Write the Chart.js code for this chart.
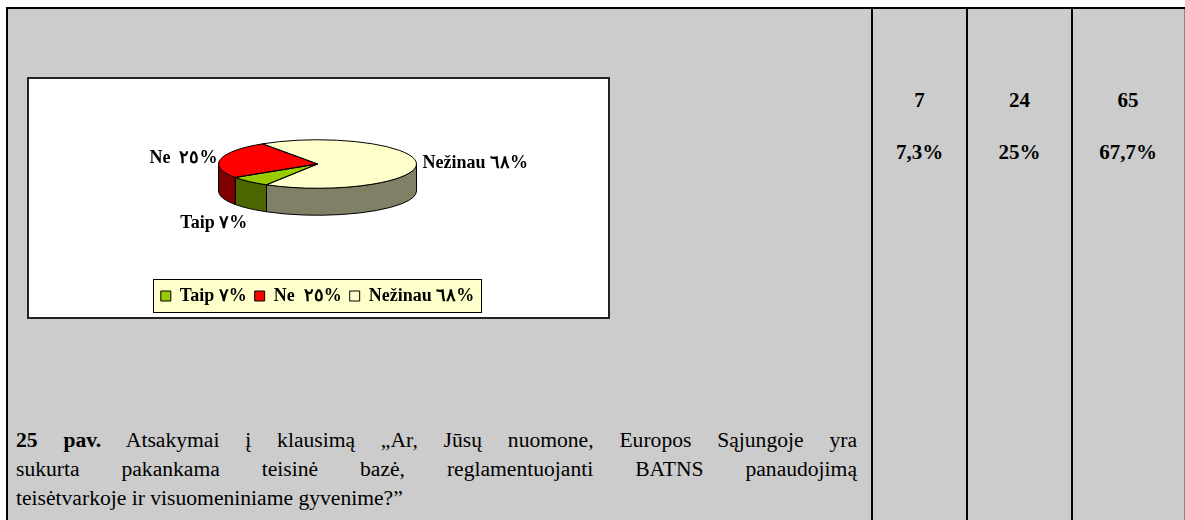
<!DOCTYPE html>
<html><head><meta charset="utf-8">
<script src="https://cdn.jsdelivr.net/npm/chart.js@4/dist/chart.umd.min.js"></script>
<style>
body{margin:0;background:#fff;width:1185px;height:520px;overflow:hidden;position:relative;font-family:'Liberation Serif','Times New Roman',serif;color:#000;}
.bg{position:absolute;left:6px;top:7px;width:1178px;height:520px;background:#cccccc;border-right:1px solid #888;}
.vl{position:absolute;top:7px;height:520px;width:2px;background:#000;}
.hl{position:absolute;left:6px;top:7px;width:1179px;height:2px;background:#000;}
#box{position:absolute;left:27px;top:77px;width:579px;height:238px;background:#fff;border:2px solid #222;}
#wrap{position:absolute;left:29px;top:20px;width:577px;height:295px;}
.num{position:absolute;font-weight:bold;font-size:21px;text-align:center;line-height:24px;}
.cap{position:absolute;left:16px;width:841px;font-size:21.6px;line-height:29px;white-space:nowrap;}
.j{text-align:justify;text-align-last:justify;white-space:normal;}
</style></head>
<body>
<div class="bg"></div>
<div class="hl"></div>
<div class="vl" style="left:6px"></div>
<div class="vl" style="left:871px"></div>
<div class="vl" style="left:966px"></div>
<div class="vl" style="left:1071px"></div>
<div id="box"></div>
<div id="wrap"><canvas id="c"></canvas></div>
<div class="cap j" style="top:426px"><b>25 pav.</b> Atsakymai į klausimą „Ar, Jūsų nuomone, Europos Sąjungoje yra</div>
<div class="cap j" style="top:455px">sukurta pakankama teisinė bazė, reglamentuojanti BATNS panaudojimą</div>
<div class="cap" style="top:484px">teisėtvarkoje ir visuomeniniame gyvenime?”</div>
<script>
// ---- data ----
const categories = ['Taip ٧%', 'Ne  ٢٥%', 'Nežinau ٦٨%'];
const values = [7, 25, 68];
const counts = [7, 24, 65];
const percents = ['7,3%', '25%', '67,7%'];
const topColors = ['#99CC00', '#FF0000', '#FFFFCC'];
const sideColors = ['#4D6600', '#800000', '#808066'];

// ---- table cells ----
const colCenters = [919.5, 1019.5, 1128];
counts.forEach((c, i) => {
  const d1 = document.createElement('div');
  d1.className = 'num'; d1.textContent = c;
  d1.style.left = (colCenters[i] - 50) + 'px'; d1.style.width = '100px'; d1.style.top = '88px';
  document.body.appendChild(d1);
  const d2 = document.createElement('div');
  d2.className = 'num'; d2.textContent = percents[i];
  d2.style.left = (colCenters[i] - 50) + 'px'; d2.style.width = '100px'; d2.style.top = '140px';
  document.body.appendChild(d2);
});

const SQ = 0.245, DEPTH = 27;
const FONT = 'bold 18px "Liberation Serif", "Times New Roman", serif';

function front(s, e) {
  const out = [];
  for (let k = -1; k <= 2; k++) {
    const lo = Math.max(s, k * 2 * Math.PI), hi = Math.min(e, k * 2 * Math.PI + Math.PI);
    if (hi > lo) out.push([lo, hi]);
  }
  return out;
}

const pie3d = {
  id: 'pie3d',
  beforeDraw(chart) {
    const hb = chart.legend && chart.legend.legendHitBoxes;
    if (!hb || !hb.length) return;
    const ctx = chart.ctx;
    let l = Infinity, r = -Infinity, t = Infinity, b = -Infinity;
    hb.forEach(h => { l = Math.min(l, h.left); r = Math.max(r, h.left + h.width); t = Math.min(t, h.top); b = Math.max(b, h.top + h.height); });
    ctx.save();
    ctx.fillStyle = '#FFFFCC';
    ctx.strokeStyle = '#000';
    ctx.lineWidth = 1;
    const x0 = Math.round(l - 8) + 0.5, x1 = Math.round(r + 7) + 0.5;
    const y0 = Math.round(t - 8) + 0.5, y1 = Math.round(b + 7) + 0.5;
    ctx.fillRect(x0, y0, x1 - x0, y1 - y0);
    ctx.strokeRect(x0, y0, x1 - x0, y1 - y0);
    ctx.restore();
  },
  beforeDatasetsDraw(chart) {
    const ctx = chart.ctx;
    const arcs = chart.getDatasetMeta(0).data;
    ctx.save();
    ctx.lineWidth = 1;
    ctx.strokeStyle = '#000';
    arcs.forEach((el, i) => {
      const p = el.getProps(['x', 'y', 'startAngle', 'endAngle', 'outerRadius'], true);
      const a = p.outerRadius, bb = a * SQ;
      front(p.startAngle, p.endAngle).forEach(([s, e]) => {
        ctx.beginPath();
        ctx.ellipse(p.x, p.y, a, bb, 0, s, e, false);
        ctx.lineTo(p.x + a * Math.cos(e), p.y + bb * Math.sin(e) + DEPTH);
        ctx.ellipse(p.x, p.y + DEPTH, a, bb, 0, e, s, true);
        ctx.closePath();
        ctx.fillStyle = sideColors[i];
        ctx.fill();
        ctx.stroke();
      });
    });
    ctx.restore();
    const p0 = arcs[0].getProps(['x', 'y'], true);
    ctx.save();
    ctx.translate(p0.x, p0.y);
    ctx.scale(1, SQ);
    ctx.translate(-p0.x, -p0.y);
  },
  afterDatasetsDraw(chart) {
    const ctx = chart.ctx;
    ctx.restore();
    const arcs = chart.getDatasetMeta(0).data;
    ctx.save();
    ctx.lineWidth = 1;
    ctx.strokeStyle = '#000';
    arcs.forEach((el) => {
      const p = el.getProps(['x', 'y', 'startAngle', 'endAngle', 'outerRadius'], true);
      const a = p.outerRadius, bb = a * SQ;
      ctx.beginPath();
      ctx.moveTo(p.x, p.y);
      ctx.ellipse(p.x, p.y, a, bb, 0, p.startAngle, p.endAngle, false);
      ctx.closePath();
      ctx.stroke();
    });
    ctx.font = FONT;
    ctx.fillStyle = '#000';
    arcs.forEach((el, i) => {
      const p = el.getProps(['x', 'y', 'startAngle', 'endAngle', 'outerRadius'], true);
      const a = p.outerRadius, bb = a * SQ;
      const m = (p.startAngle + p.endAngle) / 2;
      const c = Math.cos(m), s = Math.sin(m);
      let x = p.x + (a + (c < 0 ? 3 : 6)) * c;
      let y = p.y + (bb + 6) * s;
      ctx.textAlign = c < 0 ? 'right' : 'left';
      if (s > 0.3) { y += DEPTH + 1; ctx.textBaseline = 'top'; }
      else { ctx.textBaseline = 'middle'; }
      ctx.fillText(chart.data.labels[i], x, y);
    });
    ctx.restore();
  }
};

new Chart(document.getElementById('c'), {
  type: 'pie',
  data: {
    labels: categories,
    datasets: [{
      data: values,
      backgroundColor: topColors,
      borderWidth: 0,
      clip: false
    }]
  },
  options: {
    responsive: true,
    maintainAspectRatio: false,
    animation: false,
    events: [],
    rotation: 211,
    radius: 99,
    layout: { padding: { top: 29, bottom: 0, left: 0, right: 0 } },
    plugins: {
      tooltip: { enabled: false },
      legend: {
        position: 'bottom',
        labels: {
          font: { family: '"Liberation Serif", "Times New Roman", serif', size: 18, weight: 'bold' },
          color: '#000',
          boxWidth: 10,
          boxHeight: 10,
          padding: 8,
          generateLabels(chart) {
            return chart.data.labels.map((t, i) => ({
              text: t,
              fillStyle: topColors[i],
              strokeStyle: '#000',
              lineWidth: 1,
              hidden: false,
              index: i
            }));
          }
        }
      }
    }
  },
  plugins: [pie3d]
});
</script>
</body></html>
